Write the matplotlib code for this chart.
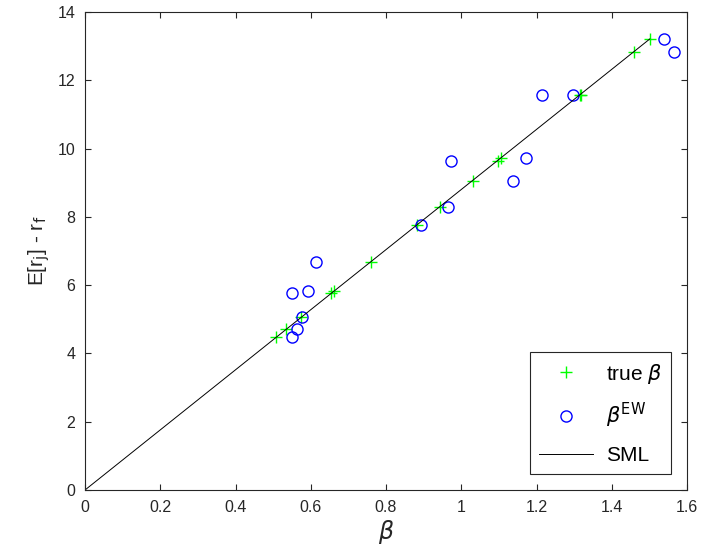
import numpy as np
import matplotlib.pyplot as plt

# true betas, estimated (equal-weighted) betas and expected excess returns
beta_true = [0.508, 0.535, 0.575, 0.655, 0.662, 0.760, 0.882, 0.943,
             1.030, 1.097, 1.106, 1.315, 1.318, 1.459, 1.501]
beta_ew = [0.551, 0.563, 0.578, 0.551, 0.592, 0.614, 0.892, 0.964,
           1.138, 0.972, 1.172, 1.214, 1.298, 1.566, 1.540]
excess_ret = [4.47, 4.71, 5.06, 5.76, 5.83, 6.69, 7.76, 8.30,
              9.06, 9.65, 9.73, 11.57, 11.57, 12.84, 13.21]

# security market line
sml_beta = [0, 1.501]
sml_ret = [0, 13.21]

plt.rcParams['font.family'] = ['Liberation Sans', 'DejaVu Sans']
plt.rcParams['mathtext.fontset'] = 'dejavusans'

fig = plt.figure(figsize=(7.03, 5.55), dpi=100)
ax = fig.add_axes([0.1209, 0.1171, 0.8564, 0.8613])

ax.plot(beta_true, excess_ret, '+', color='#00ff00', markersize=9,
        markeredgewidth=1.0, label=r'true $\beta$')
ax.plot(beta_ew, excess_ret, 'o', color='#0000ff', markersize=8,
        markerfacecolor='none', markeredgewidth=1.0, label=r'$\beta^{\mathrm{EW}}$')
ax.plot(sml_beta, sml_ret, '-', color='black', linewidth=0.7, label='SML')

ax.set_xlim(0, 1.6)
ax.set_ylim(0, 14)
ax.set_xticks(np.arange(0, 1.61, 0.2))
ax.set_xticklabels(['0', '0.2', '0.4', '0.6', '0.8', '1', '1.2', '1.4', '1.6'])
ax.set_yticks(np.arange(0, 15, 2))

for side in ['top', 'right', 'bottom', 'left']:
    ax.spines[side].set_color('#262626')
    ax.spines[side].set_linewidth(0.8)
ax.tick_params(direction='in', top=True, right=True, length=4, pad=7,
               color='#262626', labelcolor='#262626', labelsize=11.5)

ax.set_xlabel(r'$\beta$', fontsize=17, color='#262626', labelpad=2)
ax.set_ylabel(r'E[r$_\mathrm{j}$] - r$_\mathrm{f}$', fontsize=15, color='#262626')

leg = ax.legend(loc='lower right', fontsize=15, frameon=True, fancybox=False,
                edgecolor='#262626', framealpha=1, borderpad=0.45,
                handlelength=2.6, handletextpad=0.6, labelspacing=0.75,
                borderaxespad=0.75)
leg.get_frame().set_linewidth(0.8)

fig.savefig('out.png', dpi=100)
